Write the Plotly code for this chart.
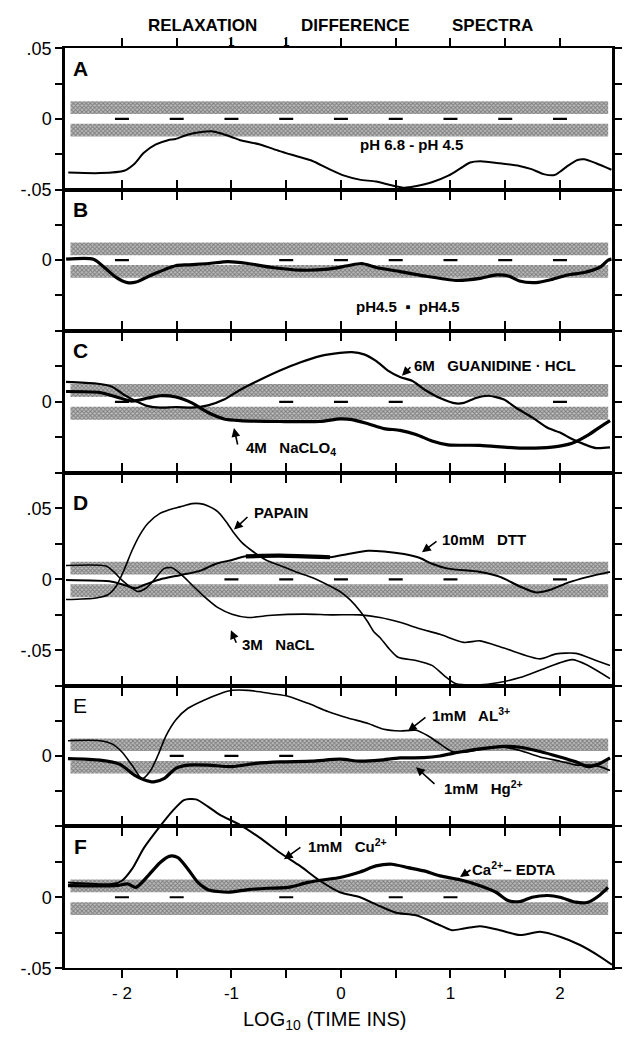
import plotly.graph_objects as go

# ---------------------------------------------------------------- data
x_ticks = [-2, -1.5, -1, -0.5, 0, 0.5, 1, 1.5, 2]
x_tick_text = ["- 2", "", "-1", "", "0", "", "1", "", "2"]
y_ticks = [-0.05, -0.025, 0, 0.025, 0.05]

# A: pH 6.8 - pH 4.5
a_x = [-2.49, -2.20, -1.98, -1.89, -1.80, -1.69, -1.58, -1.51, -1.40, -1.29, -1.18, -1.11, -1.00, -0.92,
       -0.74, -0.56, -0.41, -0.26, -0.12, 0.03, 0.17, 0.32, 0.47, 0.58, 0.68, 0.83, 0.98, 1.09, 1.18, 1.27,
       1.45, 1.63, 1.74, 1.85, 1.95, 2.00, 2.07, 2.16, 2.22, 2.33, 2.47]
a_y = [-0.0380, -0.0384, -0.0367, -0.0321, -0.0240, -0.0181, -0.0151, -0.0142, -0.0112, -0.0095, -0.0088,
       -0.0100, -0.0128, -0.0151, -0.0181, -0.0228, -0.0263, -0.0298, -0.0351, -0.0402, -0.0430, -0.0444,
       -0.0472, -0.0488, -0.0477, -0.0449, -0.0402, -0.0351, -0.0309, -0.0300, -0.0314, -0.0333, -0.0356,
       -0.0391, -0.0398, -0.0374, -0.0333, -0.0291, -0.0286, -0.0314, -0.0360]

# B: pH4.5 - pH4.5
b_x = [-2.51, -2.26, -2.16, -2.05, -1.95, -1.87, -1.73, -1.51, -1.40, -1.21, -1.03, -0.85, -0.63, -0.37,
       -0.12, 0.06, 0.19, 0.32, 0.54, 0.76, 1.05, 1.27, 1.42, 1.53, 1.63, 1.78, 1.93, 2.07, 2.22, 2.37,
       2.44, 2.47]
b_y = [0.0007, 0.0007, -0.0052, -0.0124, -0.0159, -0.0155, -0.0105, -0.0040, -0.0033, -0.0024, -0.0010,
       -0.0024, -0.0052, -0.0071, -0.0064, -0.0040, -0.0024, -0.0052, -0.0081, -0.0112, -0.0143, -0.0129,
       -0.0105, -0.0112, -0.0148, -0.0159, -0.0136, -0.0105, -0.0088, -0.0048, 0.0, 0.0007]

# C: 6M guanidine-HCl and 4M NaClO4
cg_x = [-2.511, -2.237, -2.091, -1.982, -1.872, -1.762, -1.653, -1.507, -1.361, -1.214, -1.068, -0.922,
        -0.776, -0.557, -0.374, -0.192, -0.009, 0.101, 0.210, 0.320, 0.429, 0.539, 0.649, 0.758, 0.904,
        1.050, 1.123, 1.233, 1.343, 1.489, 1.598, 1.745, 1.891, 2.000, 2.110, 2.219, 2.329, 2.457]
cg_y = [0.0141, 0.0129, 0.0107, 0.0050, 0.0005, -0.0030, -0.0041, -0.0036, -0.0041, -0.0025, 0.0016,
        0.0084, 0.0141, 0.0220, 0.0277, 0.0322, 0.0345, 0.0350, 0.0334, 0.0288, 0.0220, 0.0175, 0.0148,
        0.0089, 0.0027, -0.0011, -0.0007, 0.0027, 0.0043, 0.0016, -0.0041, -0.0109, -0.0184, -0.0216,
        -0.0261, -0.0297, -0.0325, -0.0320]
cn_x = [-2.511, -2.201, -2.018, -1.909, -1.762, -1.653, -1.507, -1.361, -1.214, -1.068, -0.922, -0.557,
        -0.192, -0.009, 0.101, 0.247, 0.393, 0.539, 0.685, 0.831, 0.977, 1.270, 1.635, 1.927, 2.110,
        2.256, 2.365, 2.457]
cn_y = [0.0073, 0.0066, 0.0027, 0.0005, 0.0027, 0.0043, 0.0034, -0.0007, -0.0075, -0.0120, -0.0132,
        -0.0138, -0.0138, -0.0120, -0.0125, -0.0154, -0.0188, -0.0200, -0.0229, -0.0275, -0.0302, -0.0306,
        -0.0325, -0.0318, -0.0291, -0.0234, -0.0177, -0.0132]

# D: papain, 10mM DTT, 3M NaCl
dp_x = [-2.511, -2.237, -2.128, -2.055, -1.982, -1.909, -1.835, -1.762, -1.653, -1.580, -1.470, -1.361,
        -1.288, -1.214, -1.123, -1.050, -0.977, -0.904, -0.813, -0.685, -0.557, -0.411, -0.265, -0.119,
        -0.009, 0.082, 0.174, 0.247, 0.302, 0.356, 0.429, 0.521, 0.685, 0.831, 0.940, 1.050, 1.270, 1.416,
        1.635, 1.855, 2.110, 2.256, 2.457]
dp_y = [-0.0142, -0.0131, -0.0108, -0.0050, 0.0064, 0.0202, 0.0316, 0.0396, 0.0465, 0.0488, 0.0511,
        0.0534, 0.0534, 0.0518, 0.0476, 0.0408, 0.0327, 0.0259, 0.0202, 0.0137, 0.0098, 0.0053, 0.0014,
        -0.0039, -0.0085, -0.0142, -0.0222, -0.0302, -0.0371, -0.0409, -0.0479, -0.0548, -0.0571, -0.0606,
        -0.0676, -0.0735, -0.0742, -0.0730, -0.0692, -0.0629, -0.0565, -0.0606, -0.0699]
dn_x = [-2.511, -2.146, -2.073, -2.000, -1.909, -1.855, -1.781, -1.708, -1.617, -1.543, -1.452, -1.361,
        -1.251, -1.123, -0.995, -0.849, -0.630, -0.338, -0.082, 0.174, 0.356, 0.539, 0.722, 0.904, 1.123,
        1.270, 1.489, 1.818, 1.964, 2.146, 2.329, 2.457]
dn_y = [0.0098, 0.0094, 0.0053, -0.0005, -0.0062, -0.0085, -0.0062, -0.0005, 0.0076, 0.0082, 0.0030,
        -0.0039, -0.0119, -0.0199, -0.0245, -0.0268, -0.0252, -0.0245, -0.0250, -0.0250, -0.0268, -0.0302,
        -0.0348, -0.0387, -0.0444, -0.0433, -0.0484, -0.0560, -0.0525, -0.0521, -0.0571, -0.0606]
dd_x = [-2.511, -2.091, -1.982, -1.872, -1.799, -1.653, -1.470, -1.288, -1.141, -0.995, -0.868, -0.557,
        -0.100, 0.064, 0.247, 0.393, 0.576, 0.722, 0.831, 0.977, 1.270, 1.453, 1.635, 1.782, 1.927, 2.073,
        2.256, 2.457]
dd_y = [-0.0005, -0.0016, -0.0039, -0.0062, -0.0039, 0.0, 0.0030, 0.0060, 0.0110, 0.0137, 0.0163, 0.0167,
        0.0156, 0.0179, 0.0202, 0.0197, 0.0179, 0.0151, 0.0110, 0.0076, 0.0053, 0.0018, -0.0050, -0.0092,
        -0.0069, -0.0023, 0.0018, 0.0053]
dd_heavy = slice(10, 13)   # stretch of the DTT trace drawn with a heavier pen

# E: 1mM Al3+ and 1mM Hg2+
ea_x = [-2.493, -2.201, -2.091, -2.000, -1.909, -1.817, -1.744, -1.671, -1.598, -1.507, -1.397, -1.251,
        -1.105, -0.995, -0.849, -0.630, -0.484, -0.301, -0.119, 0.064, 0.247, 0.393, 0.539, 0.685, 0.794,
        0.904, 1.014, 1.123, 1.270, 1.452, 1.635, 1.818, 2.000, 2.146, 2.274, 2.365, 2.457]
ea_y = [0.0109, 0.0109, 0.0086, 0.0028, -0.0065, -0.0162, -0.0111, 0.0005, 0.0144, 0.0259, 0.0340, 0.0398,
        0.0444, 0.0468, 0.0468, 0.0444, 0.0426, 0.0375, 0.0317, 0.0271, 0.0232, 0.0190, 0.0178, 0.0183,
        0.0144, 0.0086, 0.0032, 0.0028, 0.0046, 0.0067, 0.0039, -0.0007, -0.0037, -0.0065, -0.0065,
        -0.0076, -0.0104]
eh_x = [-2.493, -2.201, -2.018, -1.890, -1.799, -1.708, -1.617, -1.507, -1.397, -1.214, -0.995, -0.776,
        -0.557, -0.265, -0.009, 0.174, 0.356, 0.539, 0.758, 0.904, 1.087, 1.270, 1.489, 1.635, 1.818, 2.000,
        2.146, 2.256, 2.365, 2.457]
eh_y = [-0.0019, -0.0030, -0.0060, -0.0134, -0.0169, -0.0185, -0.0162, -0.0088, -0.0065, -0.0065, -0.0076,
        -0.0053, -0.0042, -0.0037, -0.0023, -0.0037, -0.0030, -0.0014, -0.0012, 0.0, 0.0028, 0.0051, 0.0069,
        0.0062, 0.0032, -0.0007, -0.0042, -0.0076, -0.0053, -0.0014]

# F: 1mM Cu2+ and Ca2+-EDTA
fc_x = [-2.493, -2.091, -2.000, -1.909, -1.799, -1.653, -1.543, -1.434, -1.324, -1.214, -1.105, -0.922,
        -0.740, -0.557, -0.374, -0.192, -0.009, 0.174, 0.356, 0.503, 0.685, 0.904, 1.014, 1.123, 1.270,
        1.452, 1.635, 1.818, 2.000, 2.183, 2.365, 2.475]
fc_y = [0.0104, 0.0093, 0.0116, 0.0197, 0.0347, 0.0498, 0.0602, 0.0683, 0.0688, 0.0637, 0.0579, 0.0509,
        0.0417, 0.0313, 0.0220, 0.0116, 0.0035, 0.0, -0.0063, -0.0109, -0.0127, -0.0197, -0.0232, -0.0220,
        -0.0204, -0.0232, -0.0266, -0.0243, -0.0278, -0.0336, -0.0417, -0.0475]
fe_x = [-2.493, -2.055, -1.945, -1.872, -1.762, -1.653, -1.561, -1.488, -1.397, -1.306, -1.214, -1.032,
        -0.849, -0.667, -0.484, -0.301, -0.155, -0.009, 0.174, 0.320, 0.466, 0.612, 0.758, 0.904, 1.087,
        1.270, 1.416, 1.525, 1.635, 1.745, 1.891, 2.000, 2.146, 2.256, 2.365, 2.438]
fe_y = [0.0081, 0.0081, 0.0093, 0.0069, 0.0150, 0.0243, 0.0289, 0.0278, 0.0197, 0.0104, 0.0053, 0.0035,
        0.0053, 0.0063, 0.0069, 0.0104, 0.0123, 0.0139, 0.0178, 0.0220, 0.0232, 0.0208, 0.0185, 0.0150,
        0.0123, 0.0081, 0.0035, -0.0023, -0.0030, 0.0, 0.0012, 0.0, -0.0035, -0.0035, 0.0016, 0.0069]

# noise bands either side of zero, and the zero markers left visible in each panel
band_x = [-2.47, 2.44]
band_upper = [0.0035, 0.0125]
band_lower = [-0.0125, -0.0035]
zero_marks = {
    1: [-2, -1.5, -1, -0.5, 0, 0.5, 1, 1.5, 2],
    2: [-2, -0.5, 0, 0.5, 1, 1.5, 2],
    3: [-2, -0.5, 0, 0.5, 2],
    4: [-1, -0.5, 0, 0.5, 1, 2],
    5: [-1.5, -1, -0.5],
    6: [-2, -1.5, -0.5, 0.5, 1],
}

# ---------------------------------------------------------------- layout geometry
W, H = 629, 1047
LEFT, RIGHT = 65, 612
X_RANGE = [-2.52, 2.475]
panels = [  # (top px, bottom px, y range, y tick labels, letter, letter style)
    (39, 183, [-0.05, 0.05], ["-.05", "", "0", "", ".05"], "A", "bold"),
    (183, 327, [-0.05, 0.05], ["", "", "0", "", ""], "B", "bold"),
    (327, 472, [-0.05, 0.05], ["", "", "0", "", ""], "C", "bold"),
    (472, 689, [-0.075, 0.075], ["-.05", "", "0", "", ".05"], "D", "bold"),
    (689, 832, [-0.05, 0.05], ["", "", "0", "", ""], "E", "normal"),
    (832, 977, [-0.05, 0.05], ["-.05", "", "0", "", ""], "F", "bold"),
]
FONT = "Liberation Sans, Arial, sans-serif"
NARROW = "Liberation Sans Narrow, Liberation Sans, Arial, sans-serif"


def ax_id(kind, i):
    return kind if i == 1 else f"{kind}{i}"


layout = dict(
    width=W, height=H, margin=dict(l=0, r=0, t=0, b=0),
    paper_bgcolor="white", plot_bgcolor="rgba(0,0,0,0)", showlegend=False,
    font=dict(family=FONT, color="black"),
)
annotations = []

for i, (top, bot, yr, ylab, letter, weight) in enumerate(panels, start=1):
    layout[ax_id("xaxis", i)] = dict(
        domain=[LEFT / W, RIGHT / W], range=X_RANGE, anchor=ax_id("y", i),
        tickmode="array", tickvals=x_ticks, ticktext=x_tick_text, showticklabels=(i == 6),
        ticks="outside", ticklen=8, tickwidth=2, tickcolor="black", mirror="ticks",
        showline=True, linewidth=2, linecolor="black", showgrid=False, zeroline=False,
        tickfont=dict(size=17, family=FONT),
    )
    layout[ax_id("yaxis", i)] = dict(
        domain=[1 - bot / H, 1 - top / H], range=yr, anchor=ax_id("x", i),
        tickmode="array", tickvals=y_ticks, ticktext=ylab,
        ticks="outside", ticklen=7, tickwidth=2, tickcolor="black", mirror="ticks",
        showline=True, linewidth=2.5, linecolor="black", showgrid=False, zeroline=False,
        tickfont=dict(size=18, family=FONT),
    )
    # panel letter in the upper-left corner
    span = yr[1] - yr[0]
    annotations.append(dict(
        xref=ax_id("x", i), yref=ax_id("y", i), x=-2.38, y=yr[1] - 0.14 * span,
        text=letter, showarrow=False, xanchor="center", yanchor="middle",
        font=dict(size=21, family=NARROW, weight=weight),
    ))

# extra vertical axis for panel F so the Cu2+ peak may rise above the panel frame
f_top, f_bot, f_range = panels[5][0], panels[5][1], panels[5][2]
over_top_px = 790
per_px = (f_range[1] - f_range[0]) / (f_bot - f_top)
layout["yaxis7"] = dict(
    domain=[1 - f_bot / H, 1 - over_top_px / H],
    range=[f_range[0], f_range[0] + (f_bot - over_top_px) * per_px],
    anchor="x6", visible=False, showgrid=False, zeroline=False,
)

fig = go.Figure(layout=layout)


def add_line(x, y, i, width, yaxis=None):
    fig.add_trace(go.Scatter(
        x=x, y=y, xaxis=ax_id("x", i), yaxis=yaxis or ax_id("y", i), mode="lines",
        line=dict(color="black", width=width, shape="spline", smoothing=0.7),
        hoverinfo="skip",
    ))


# stippled noise bands
for i in range(1, 7):
    for lo, hi in (band_upper, band_lower):
        fig.add_trace(go.Scatter(
            x=[band_x[0], band_x[1], band_x[1], band_x[0], band_x[0]], y=[lo, lo, hi, hi, lo],
            xaxis=ax_id("x", i), yaxis=ax_id("y", i), mode="none", fill="toself",
            fillcolor="#a0a0a0",
            fillpattern=dict(shape="x", size=3, solidity=0.55, fgcolor="#3c3c3c", bgcolor="#bdbdbd"),
            hoverinfo="skip",
        ))
    fig.add_trace(go.Scatter(
        x=zero_marks[i], y=[0] * len(zero_marks[i]), xaxis=ax_id("x", i), yaxis=ax_id("y", i),
        mode="markers", marker=dict(symbol="line-ew", size=10, line=dict(width=2.2, color="black")),
        hoverinfo="skip",
    ))

add_line(a_x, a_y, 1, 2.0)
add_line(b_x, b_y, 2, 3.2)
add_line(cg_x, cg_y, 3, 2.2)
add_line(cn_x, cn_y, 3, 3.2)
add_line(dp_x, dp_y, 4, 1.6)
add_line(dn_x, dn_y, 4, 1.6)
add_line(dd_x, dd_y, 4, 2.0)
add_line(dd_x[dd_heavy], dd_y[dd_heavy], 4, 4.2)
add_line(ea_x, ea_y, 5, 1.6)
add_line(eh_x, eh_y, 5, 3.2)
add_line(fc_x, fc_y, 6, 2.0, yaxis="y7")
add_line(fe_x, fe_y, 6, 3.2, yaxis="y7")

# curve labels: (panel, text, x, y, anchor)
labels = [
    (1, "pH 6.8 - pH 4.5", 0.648, -0.0181, "center"),
    (2, "pH4.5  ▪  pH4.5", 0.612, -0.0326, "center"),
    (3, "6M&nbsp;&nbsp; GUANIDINE · HCL", 0.648, 0.0253, "left"),
    (3, "4M&nbsp;&nbsp; NaCLO<sub>4</sub>", -0.886, -0.0330, "left"),
    (4, "PAPAIN", -0.813, 0.0469, "left"),
    (4, "10mM&nbsp;&nbsp; DTT", 0.904, 0.0281, "left"),
    (4, "3M&nbsp;&nbsp; NaCL", -0.922, -0.0462, "left"),
    (5, "1mM&nbsp;&nbsp; AL<sup>3+</sup>", 0.813, 0.0295, "left"),
    (5, "1mM&nbsp;&nbsp; Hg<sup>2+</sup>", 0.922, -0.0226, "left"),
    (6, "1mM&nbsp;&nbsp; Cu<sup>2+</sup>", -0.320, 0.0365, "left"),
    (6, "Ca<sup>2+</sup>– EDTA", 1.178, 0.0205, "left"),
]
for i, text, x, y, anchor in labels:
    annotations.append(dict(
        xref=ax_id("x", i), yref=ax_id("y", i), x=x, y=y, text=text, showarrow=False,
        xanchor=anchor, yanchor="middle", font=dict(size=15, family=FONT, weight="bold"),
    ))

# pointer arrows: (panel, head x, head y, tail dx, tail dy in px)
arrows = [
    (3, 0.557, 0.0184, 10, -10),
    (3, -0.977, -0.0184, 4, 18),
    (4, -0.977, 0.0351, 15, -14),
    (4, 0.740, 0.0191, 16, -12),
    (4, -1.005, -0.0358, 6, 14),
    (5, 0.612, 0.0177, 19, -15),
    (5, 0.685, -0.0080, 20, 18),
    (6, -0.521, 0.0267, 18, -13),
    (6, 1.087, 0.0142, 12, -8),
]
for i, x, y, dx, dy in arrows:
    annotations.append(dict(
        xref=ax_id("x", i), yref=ax_id("y", i), x=x, y=y, ax=dx, ay=dy, text="",
        showarrow=True, arrowhead=2, arrowsize=1.1, arrowwidth=1.6, arrowcolor="black", standoff=0,
    ))

# heading and axis title
for word, cx in (("RELAXATION", 202), ("DIFFERENCE", 355), ("SPECTRA", 492)):
    annotations.append(dict(
        xref="paper", yref="paper", x=cx / W, y=1 - 16 / H, text=word, showarrow=False,
        xanchor="center", yanchor="middle", font=dict(size=17, family=FONT, weight=600),
    ))
for tx in (-1.0, -0.5):
    annotations.append(dict(
        xref="x", yref="paper", x=tx, y=1 - 33 / H, text="1", showarrow=False,
        xanchor="center", yanchor="middle", font=dict(size=12, family=FONT),
    ))
annotations.append(dict(
    xref="paper", yref="paper", x=324 / W, y=1 - 1030 / H,
    text="LOG<sub>10</sub> (TIME INS)", showarrow=False, xanchor="center", yanchor="middle",
    font=dict(size=20, family=FONT),
))

fig.update_layout(annotations=annotations)
fig.write_html("out.html")
